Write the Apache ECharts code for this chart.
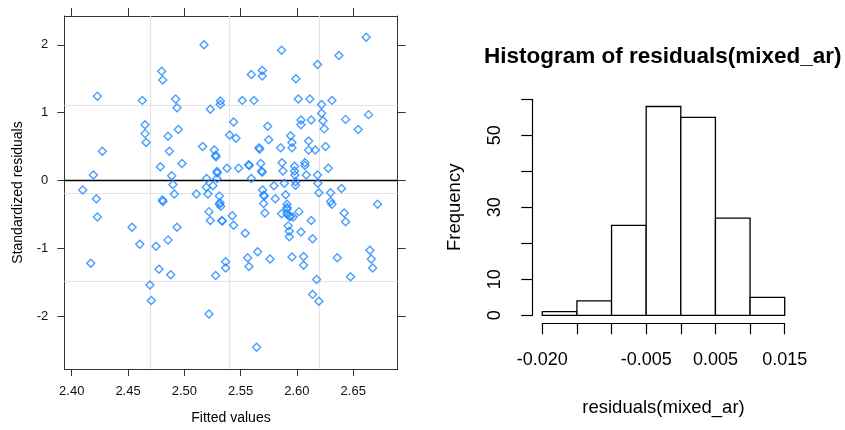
<!DOCTYPE html>
<html><head><meta charset="utf-8">
<script src="https://cdn.jsdelivr.net/npm/echarts@6/dist/echarts.min.js"></script>
<style>html,body{margin:0;padding:0;background:#fff}#c{width:845px;height:430px}</style>
</head><body><div id="c"></div>
<script>
// ---- Left panel: standardized residuals vs fitted values ----
const fittedValues = [
2.4098,2.4169,2.4192,2.4219,2.4228,2.4228,2.4272,2.4536,2.4604,2.4627,
2.4651,2.4651,2.4660,2.4695,2.4707,2.4749,2.4775,2.4787,2.4799,2.4808,
2.4805,2.4810,2.4855,2.4855,2.4867,2.4879,2.4888,2.4899,2.4911,2.4923,
2.4935,2.4935,2.4947,2.4979,2.5107,2.5163,2.5175,2.5195,2.5198,2.5210,
2.5219,2.5219,2.5231,2.5231,2.5254,2.5266,2.5278,2.5281,2.5278,2.5290,
2.5293,2.5290,2.5311,2.5311,2.5320,2.5320,2.5323,2.5334,2.5337,2.5367,
2.5367,2.5379,2.5402,2.5426,2.5438,2.5438,2.5459,2.5482,2.5515,2.5541,
2.5562,2.5571,2.5577,2.5574,2.5595,2.5595,2.5618,2.5651,2.5642,2.5663,
2.5669,2.5678,2.5686,2.5692,2.5692,2.5692,2.5695,2.5704,2.5710,2.5704,
2.5716,2.5740,2.5749,2.5761,2.5796,2.5808,2.5855,2.5864,2.5864,2.5867,
2.5876,2.5888,2.5900,2.5912,2.5912,2.5912,2.5923,2.5932,2.5932,2.5932,
2.5944,2.5944,2.5956,2.5956,2.5956,2.5967,2.5979,2.5979,2.5982,2.5988,
2.5991,2.6012,2.6018,2.6036,2.6036,2.6036,2.6059,2.6059,2.6071,2.6071,
2.6083,2.6104,2.6104,2.6115,2.6127,2.6127,2.6139,2.6139,2.6163,2.6175,
2.6183,2.6183,2.6186,2.6195,2.6195,2.6219,2.6219,2.6231,2.6243,2.6254,
2.6278,2.6299,2.6299,2.6311,2.6311,2.6358,2.6373,2.6396,2.6420,2.6432,
2.6432,2.6476,2.6544,2.6615,2.6636,2.6648,2.6660,2.6672,2.6716,2.5988,
2.5912,2.5317
];
const stdResiduals = [
-0.14,-1.22,0.08,-0.27,1.24,-0.54,0.43,-0.69,-0.94,1.18,
0.82,0.69,0.56,-1.54,-1.77,-0.97,-1.31,0.20,1.61,1.48,
-0.29,-0.31,0.65,-0.88,0.43,-1.39,0.07,-0.06,-0.20,1.20,
1.07,-0.69,0.75,0.25,-0.20,0.50,2.00,-0.10,0.03,-0.20,
-0.46,-1.97,1.05,-0.59,-0.08,0.45,0.37,0.35,-1.40,0.13,
0.11,0.03,-0.23,-0.35,1.17,1.12,-0.38,-0.59,-0.60,-1.20,
-1.29,0.18,0.67,-0.52,0.86,-0.66,0.62,0.18,1.18,-0.78,
-1.14,0.23,0.22,-1.27,0.03,1.56,1.18,-1.05,-2.46,0.48,
0.46,0.25,0.14,0.12,1.62,1.54,-0.14,-0.22,-0.23,-0.34,
-0.48,0.80,0.60,-1.16,-0.08,-0.27,0.48,1.92,-0.49,0.26,
0.14,-0.04,-0.21,-0.35,-0.42,-0.49,-0.67,-0.53,-0.75,-0.83,
0.66,-0.53,0.56,0.48,-1.13,-0.54,0.21,0.14,0.08,-0.02,
1.50,1.20,-0.46,0.89,0.82,-0.76,-1.12,-1.25,0.26,0.22,
0.08,0.58,0.45,1.20,0.89,-0.59,-0.86,-1.68,0.45,-1.46,
1.71,0.08,-0.04,-0.18,-1.78,1.12,0.99,0.88,0.76,0.50,
0.18,-0.18,-0.31,-0.35,1.18,-1.14,1.84,-0.12,-0.48,-0.61,
0.90,-1.42,0.75,2.11,0.97,-1.03,-1.16,-1.29,-0.35,-0.07,
-0.40,-0.33
];
const xTicks = [2.40, 2.45, 2.50, 2.55, 2.60, 2.65];
const yTicks = [-2, -1, 0, 1, 2];
const xRange = [2.3934, 2.6895];
const yRange = [-2.78, 2.424];
const refX = [2.468, 2.542, 2.615];
const refY = [1.114, -0.186, -1.49];
const zeroLine = 0;

// ---- Right panel: histogram of residuals ----
const binStarts = [-0.020, -0.015, -0.010, -0.005, 0.000, 0.005, 0.010];
const binWidth = 0.005;
const counts = [1, 4, 25, 58, 55, 27, 5];
const histXTicks = [-0.020, -0.015, -0.010, -0.005, 0.000, 0.005, 0.010, 0.015];
const histXLabels = [-0.020, -0.005, 0.005, 0.015];
const histYTicks = [0, 10, 20, 30, 40, 50, 60];
const histYLabels = [0, 10, 30, 50];

const chart = echarts.init(document.getElementById('c'), null, {renderer: 'canvas'});
const FONT = 'Liberation Sans, Arial, sans-serif';
const boxColor = '#333';

function boxAxis(extra) {
  return Object.assign({
    type: 'value', gridIndex: 0,
    axisLine: {show: true, onZero: false, lineStyle: {color: boxColor, width: 1}},
    splitLine: {show: false},
  }, extra);
}

const option = {
  backgroundColor: '#fff',
  animation: false,
  title: {
    text: 'Histogram of residuals(mixed_ar)',
    left: 479, top: 40,
    textStyle: {fontFamily: FONT, fontSize: 22.5, fontWeight: 'bold', color: '#000'}
  },
  grid: [
    {left: 64.3, top: 16, width: 333.4, height: 355},
    {left: 542.3, top: 99.3, width: 242.4, height: 216}
  ],
  xAxis: [
    boxAxis({
      position: 'bottom', min: xRange[0], max: xRange[1],
      axisTick: {show: true, inside: false, length: 7, customValues: xTicks, lineStyle: {color: boxColor}},
      axisLabel: {show: true, customValues: xTicks, formatter: v => v.toFixed(2), margin: 16,
        fontSize: 13, fontFamily: FONT, color: '#111'},
      name: 'Fitted values', nameLocation: 'middle', nameGap: 42,
      nameTextStyle: {fontSize: 14, fontFamily: FONT, color: '#000'}
    }),
    boxAxis({
      position: 'top', min: xRange[0], max: xRange[1],
      axisTick: {show: true, inside: false, length: 8, customValues: xTicks, lineStyle: {color: boxColor}},
      axisLabel: {show: false}
    }),
    {
      type: 'value', gridIndex: 1, min: -0.020, max: 0.015, position: 'bottom', offset: 8,
      axisLine: {show: true, onZero: false, lineStyle: {color: '#000', width: 1.2}},
      axisTick: {show: true, inside: false, length: 11, customValues: histXTicks, lineStyle: {color: '#000', width: 1.2}},
      axisLabel: {show: true, customValues: histXLabels, formatter: v => v.toFixed(3), margin: 28,
        fontSize: 18, fontFamily: FONT, color: '#000'},
      splitLine: {show: false},
      name: 'residuals(mixed_ar)', nameLocation: 'middle', nameGap: 75,
      nameTextStyle: {fontSize: 18.5, fontFamily: FONT, color: '#000'}
    }
  ],
  yAxis: [
    boxAxis({
      position: 'left', min: yRange[0], max: yRange[1],
      axisTick: {show: true, inside: false, length: 7, customValues: yTicks, lineStyle: {color: boxColor}},
      axisLabel: {show: true, customValues: yTicks, margin: 16,
        fontSize: 13, fontFamily: FONT, color: '#111'},
      name: 'Standardized residuals', nameLocation: 'middle', nameGap: 39,
      nameTextStyle: {fontSize: 14, fontFamily: FONT, color: '#000'}
    }),
    boxAxis({
      position: 'right', min: yRange[0], max: yRange[1],
      axisTick: {show: true, inside: false, length: 8, customValues: yTicks, lineStyle: {color: boxColor}},
      axisLabel: {show: false}
    }),
    {
      type: 'value', gridIndex: 1, min: 0, max: 60, position: 'left', offset: 10,
      axisLine: {show: true, onZero: false, lineStyle: {color: '#000', width: 1.2}},
      axisTick: {show: true, inside: false, length: 11, customValues: histYTicks, lineStyle: {color: '#000', width: 1.2}},
      axisLabel: {show: true, customValues: histYLabels, rotate: 90, margin: 28,
        fontSize: 18, fontFamily: FONT, color: '#000'},
      splitLine: {show: false},
      name: 'Frequency', nameLocation: 'middle', nameGap: 68,
      nameTextStyle: {fontSize: 18.5, fontFamily: FONT, color: '#000'}
    }
  ],
  series: [
    {
      type: 'scatter', xAxisIndex: 0, yAxisIndex: 0, data: [], z: 1, silent: true,
      markLine: {
        silent: true, symbol: 'none', z: 1, animation: false,
        label: {show: false},
        lineStyle: {color: '#e4e4e4', width: 1.2, type: 'solid'},
        data: refX.map(v => ({xAxis: v})).concat(refY.map(v => ({yAxis: v})))
      }
    },
    {
      type: 'scatter', xAxisIndex: 0, yAxisIndex: 0, z: 3,
      data: fittedValues.map((x, i) => [x, stdResiduals[i]]),
      symbol: 'diamond', symbolSize: 8,
      itemStyle: {color: 'rgba(0,0,0,0)', borderColor: '#1a85ff', borderWidth: 1.4},
      markLine: {
        silent: true, symbol: 'none', z: 2, animation: false,
        label: {show: false},
        lineStyle: {color: '#000', width: 1.3, type: 'solid'},
        data: [{yAxis: zeroLine}]
      }
    },
    {
      type: 'custom', xAxisIndex: 2, yAxisIndex: 2,
      data: binStarts.map((s, i) => [s, s + binWidth, counts[i]]),
      encode: {x: [0, 1], y: 2},
      renderItem: function (params, api) {
        const p0 = api.coord([api.value(0), 0]);
        const p1 = api.coord([api.value(1), api.value(2)]);
        return {
          type: 'rect',
          shape: {x: p0[0], y: p1[1], width: p1[0] - p0[0], height: p0[1] - p1[1]},
          style: {fill: '#fff', stroke: '#000', lineWidth: 1.3}
        };
      }
    }
  ]
};
chart.setOption(option);
</script>
</body></html>
